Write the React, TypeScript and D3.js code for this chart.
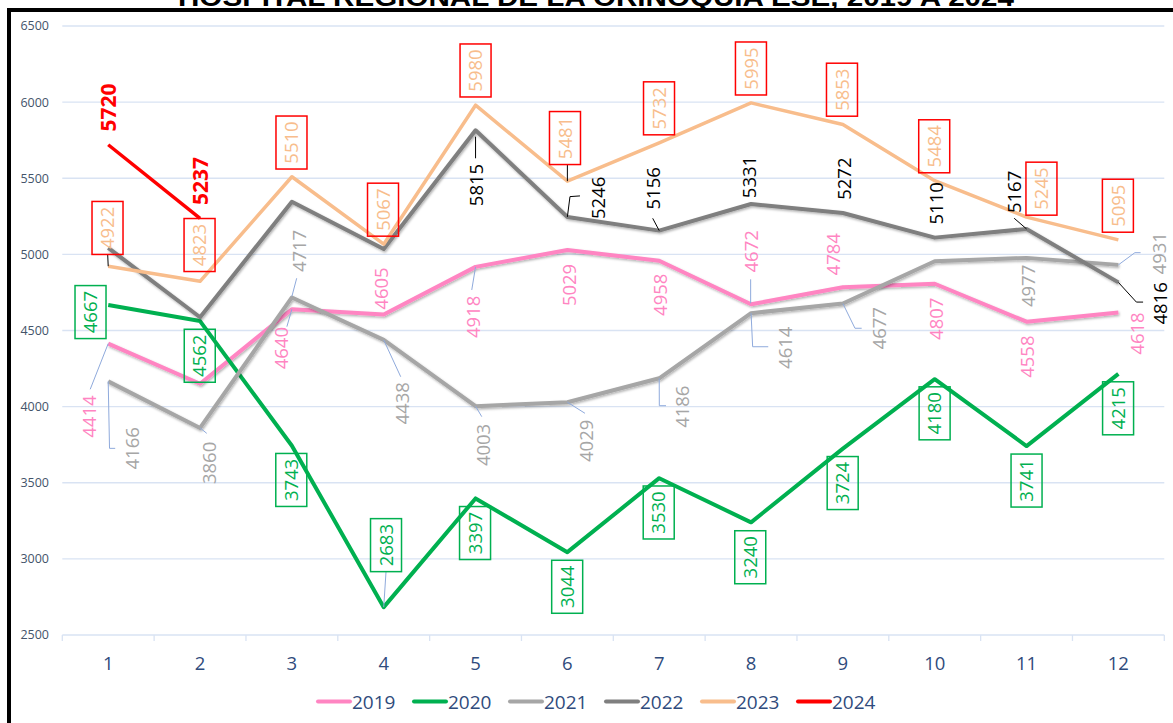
import React from 'react';
import * as d3 from 'd3';

const months = ['1', '2', '3', '4', '5', '6', '7', '8', '9', '10', '11', '12'];
const yTicks = [2500, 3000, 3500, 4000, 4500, 5000, 5500, 6000, 6500];

const v2019 = [4414, 4150, 4640, 4605, 4918, 5029, 4958, 4672, 4784, 4807, 4558, 4618];
const v2020 = [4667, 4562, 3743, 2683, 3397, 3044, 3530, 3240, 3724, 4180, 3741, 4215];
const v2021 = [4166, 3860, 4717, 4438, 4003, 4029, 4186, 4614, 4677, 4955, 4977, 4931];
const v2022 = [5043, 4587, 5346, 5035, 5815, 5246, 5156, 5331, 5272, 5110, 5167, 4816];
const v2023 = [4922, 4823, 5510, 5067, 5980, 5481, 5732, 5995, 5853, 5484, 5245, 5095];
const v2024 = [5720, 5237];

const title = 'HOSPITAL REGIONAL DE LA ORINOQUIA ESE, 2019 A 2024';

type Off = [number, number] | null;
type Lead = [number, number][] | null;

// label centre offsets (px) from each point, null = label not shown
const off2019: Off[] = [[-19, 73], null, [-11, 39], [-2.5, -26], [-2.2, 50], [1.8, 35], [1.1, 34], [0.6, -53], [-9.2, -33], [1.5, 35], [0.6, 35], [19, 21]];
const off2020: Off[] = [[-17.7, 7], [-0.3, 34.7], [-0.6, 34.2], [2.3, -62], [-0.5, 34.6], [-0.2, 34.6], [-0.5, 34.3], [-0.8, 34.9], [-0.2, 34.4], [-0.1, 34.1], [0, 34.5], [-0.3, 34.4]];
const off2021: Off[] = [[24.3, 67], [9.5, 35], [7, -46.5], [19, 63.4], [8.2, 38.8], [19, 38.6], [23.3, 28.4], [34.7, 34.6], [36.3, 24.7], null, [2.2, 28], [40.7, -11.6]];
const off2022: Off[] = [null, null, null, null, [0.3, 54.7], [31.4, -19], [-6.2, -42.3], [-1.6, -27], [1.1, -34.3], [1.2, -34.3], [-12.6, -37], [42.3, 21]];
const off2023: Off[] = [[-0.7, -38.3], [-0.5, -36.3], [-0.4, -34.2], [-0.7, -34.5], [0, -34.7], [-2.4, -43.1], [-0.2, -34.6], [-0.1, -34.4], [-0.9, -34.8], [-0.5, -34.4], [14.9, -28.4], [-0.5, -34.2]];
const off2024: Off[] = [[0.5, -37.3], [0.8, -37.3]];

// leader lines, relative to the point
const lead2019: Lead[] = [[[0, 0], [-18, 45.7]], null, [[0, 0], [-5, 17.5]], null, [[0, 0], [-3.8, 23.1]], null, null, [[-0.4, -25], [-0.4, -1]], null, null, null, null];
const lead2020: Lead[] = [null, null, null, [[2.3, -35.4], [0, 0]], null, null, null, null, null, null, null, null];
const lead2021: Lead[] = [[[0, 0], [1.3, 67], [7, 67]], [[0, 0], [6.7, 5.4]], [[4.8, -19.2], [0, -1]], [[0, 0], [17, 36.8]], [[0, 0], [6.2, 10.5]], [[0, 0], [17.6, 11.1]], [[0, 0], [0.1, 27.4], [6.8, 27.4]], [[0, 0], [1.6, 33.6], [17.2, 33.6]], [[0, 0], [12.1, 24.7], [18.8, 24.7]], null, null, [[0, 0], [16.5, -12.2], [22.2, -12.2]]];
const lead2022: Lead[] = [null, null, null, null, [[0, 6.4], [0, 28]], [[0, 0], [2.6, -20.3], [12.6, -21]], [[0, 0], [-6.5, -12.3]], null, null, null, [[0, 0], [-12.4, -10.7]], [[0, 0], [18, 19.7], [24.7, 19.7]]];
const lead2023: Lead[] = [[[-0.5, -11.3], [0, 0]], null, null, null, null, [[0, -17], [0, 0]], null, null, null, null, null, null];

const width = 1173;
const height = 723;
const leaderBlue = '#8FAADC';

const series = [
  { name: '2019', values: v2019, color: '#FF85C2', text: '#FF85C2', box: null, bold: false, off: off2019, lead: lead2019, leadColor: leaderBlue, shadow: true },
  { name: '2020', values: v2020, color: '#00B050', text: '#00B050', box: '#00B050', bold: false, off: off2020, lead: lead2020, leadColor: leaderBlue, shadow: false },
  { name: '2021', values: v2021, color: '#A6A6A6', text: '#A6A6A6', box: null, bold: false, off: off2021, lead: lead2021, leadColor: leaderBlue, shadow: true },
  { name: '2022', values: v2022, color: '#7F7F7F', text: '#000000', box: null, bold: false, off: off2022, lead: lead2022, leadColor: '#000000', shadow: true },
  { name: '2023', values: v2023, color: '#F8BD8C', text: '#F8BD8C', box: '#FF0000', bold: false, off: off2023, lead: lead2023, leadColor: '#000000', shadow: false },
  { name: '2024', values: v2024, color: '#FF0000', text: '#FF0000', box: null, bold: true, off: off2024, lead: [] as Lead[], leadColor: '#000000', shadow: false },
];

const App: React.FC = () => {
  const x = d3.scaleBand<string>().domain(months).range([62.3, 1164.3]);
  const y = d3.scaleLinear().domain([2500, 6500]).range([635, 26]);
  const cx = (i: number) => (x(months[i]) as number) + x.bandwidth() / 2;

  const line = d3.line<number>()
    .x((_, i) => cx(i))
    .y(d => y(d));

  const font = 'Open Sans, DejaVu Sans, sans-serif';

  return (
    <svg width={width} height={height} style={{ position: 'absolute', left: 0, top: 0, background: '#fff' }}>
      <defs>
        <filter id="sh" x="-5%" y="-20%" width="110%" height="140%">
          <feDropShadow dx="1" dy="1.5" stdDeviation="1.2" floodColor="#000" floodOpacity="0.3" />
        </filter>
      </defs>
      <rect width={width} height={height} fill="#fff" />
      <text x={178} y={6} fontFamily="Liberation Sans, Arial, sans-serif" fontWeight="bold" fontSize={25}
        textLength={836} lengthAdjust="spacingAndGlyphs" fill="#000">{title}</text>
      <rect x={9} y={10} width={1250} height={800} fill="none" stroke="#000" strokeWidth={4} />

      {/* grid */}
      {yTicks.map(t => (
        <g key={t}>
          <line x1={62.3} x2={1164.3} y1={y(t)} y2={y(t)} stroke="#D9E3F3" strokeWidth={1.3} />
          <text x={49} y={y(t)} dy="0.35em" textAnchor="end" fontFamily={font} fontSize={12.5} fill="#44546A">{t}</text>
        </g>
      ))}
      {d3.range(months.length + 1).map(i => {
        const xx = 62.3 + i * x.step();
        return <line key={i} x1={xx} x2={xx} y1={635} y2={641} stroke="#D9E3F3" strokeWidth={1.3} />;
      })}
      {months.map((m, i) => (
        <text key={m} x={cx(i)} y={670} textAnchor="middle" fontFamily={font} fontSize={18.5} fill="#2F4B7C">{m}</text>
      ))}

      {/* lines */}
      {series.map(s => (
        <path key={s.name} d={line(s.values) as string} fill="none" stroke={s.color}
          strokeWidth={s.name === '2023' || s.name === '2024' ? 3.5 : 4} strokeLinejoin="round"
          filter={s.shadow ? 'url(#sh)' : undefined} />
      ))}

      {/* leaders */}
      {series.map(s => s.values.map((v, i) => {
        const l = s.lead[i];
        if (!l) return null;
        const px = cx(i);
        const py = y(v);
        return <polyline key={s.name + 'l' + i} points={l.map(p => `${px + p[0]},${py + p[1]}`).join(' ')}
          fill="none" stroke={s.leadColor} strokeWidth={1} />;
      }))}

      {/* labels */}
      {series.map(s => s.values.map((v, i) => {
        const o = s.off[i];
        if (!o) return null;
        const lx = cx(i) + o[0];
        const ly = y(v) + o[1];
        return (
          <g key={s.name + 't' + i} transform={`translate(${lx},${ly}) rotate(-90)`}>
            {s.box && <rect x={-26.5} y={-15.5} width={53} height={31} fill="none" stroke={s.box} strokeWidth={1.5} />}
            <text textAnchor="middle" dy="0.36em" fontFamily={font}
              fontSize={s.bold ? 21 : 18.5} fontWeight={s.bold ? 'bold' : 'normal'} fill={s.text}>{v}</text>
          </g>
        );
      }))}

      {/* legend */}
      {series.map((s, i) => {
        const lx = 318 + i * 96;
        return (
          <g key={s.name + 'lg'}>
            <line x1={lx} x2={lx + 32} y1={701.5} y2={701.5} stroke={s.color} strokeWidth={4} strokeLinecap="round" />
            <text x={lx + 34} y={708.5} fontFamily={font} fontSize={19} fill="#2F4B7C">{s.name}</text>
          </g>
        );
      })}
    </svg>
  );
};

export default App;
